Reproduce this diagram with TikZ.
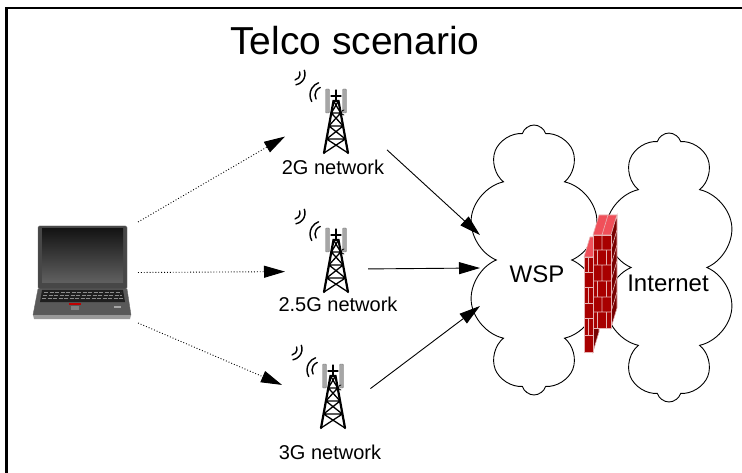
\documentclass[tikz,border=0pt]{standalone}
\usepackage{fontspec}
\setmainfont{Liberation Sans}
\usetikzlibrary{calc,arrows.meta,shapes.symbols}

\definecolor{brickface}{HTML}{A80000}
\definecolor{brickside}{HTML}{780000}
\definecolor{bricktop}{HTML}{F0505A}
\definecolor{mortar}{HTML}{E6B4B4}

\def\signal(#1)(#2:#3:#4){\draw[line width=1.4pt] (#1) ++(#2:#4) arc (#2:#3:#4);}
\def\celltower(#1){%
  \begin{scope}[shift={(#1)}, line cap=round]
    % antenna panels
    \draw[gray, fill=gray!70, rounded corners=1pt] (-10.5,-64) rectangle (-6.5,-40);
    \draw[gray, fill=gray!70, rounded corners=1pt] (6.5,-64) rectangle (10.5,-40);
    % mast, legs and bracing
    \draw[line width=1.2pt] (0,-52) -- (0,-63) (-5,-57) -- (5,-57);
    \draw[line width=2.2pt] (-12,0) -- (-2.5,-52) -- (2.5,-52) -- (12,0);
    \draw[line width=1.3pt] (-9.4,-14) -- (9.4,-14) (-7.1,-27) -- (7.1,-27) (-4.7,-40) -- (4.7,-40)
      (-12,0) -- (9.4,-14) (12,0) -- (-9.4,-14) (-9.4,-14) -- (7.1,-27) (9.4,-14) -- (-7.1,-27)
      (-7.1,-27) -- (4.7,-40) (7.1,-27) -- (-4.7,-40) (-4.7,-40) -- (2.5,-52) (4.7,-40) -- (-2.5,-52);
    \draw[line width=0.8pt] (8,-38) arc (-90:90:-2.5);
    % radio waves
    \signal(-42,-79)(-20:80:6)
    \signal(-42,-79)(-20:80:11)
    \signal(-13,-58)(150:250:8)
    \signal(-13,-58)(150:250:13)
  \end{scope}}

\tikzset{
  spot/.style={minimum width=102pt, minimum height=70pt, inner sep=0pt, outer sep=0pt},
  link/.style={line width=0.9pt, -{Triangle[length=21pt,width=12pt]}},
  radio/.style={link, dotted},
  cloudy/.style={cloud, draw, cloud puffs=10, cloud puff arc=145, aspect=0.5, line width=0.9pt, inner sep=0pt},
  label/.style={font=\fontsize{20}{24}\selectfont, anchor=base},
  mortarline/.style={draw=mortar, line width=0.6pt}
}

\begin{document}
\begin{tikzpicture}[x=1pt, y=-1pt]
  \useasboundingbox (0,0) rectangle (742,473);

  %%%%% FRAME AND TITLE %%%%%
  \draw[line width=2.7pt] (6.3,473) -- (6.3,8) -- (742,8);
  \node[font=\fontsize{39}{44}\selectfont, anchor=base] (title) at (355,55) {Telco scenario};

  %%%%% CLOUDS %%%%%
  \node[cloudy, minimum width=132pt, minimum height=270pt] (wspcloud) at (534,260) {};
  \node[cloudy, minimum width=132pt, minimum height=269pt, shape border rotate=15] (inetcloud) at (669,267.5) {};

  %%%%% LAPTOP %%%%%
  \draw[black!60, fill=black!72, rounded corners=1.5pt] (38,226) rectangle (127,289);
  \shade[top color=black!92, bottom color=black!62] (42,229) rectangle (123,283);
  \draw[black!60, fill=black!65] (38,289) -- (127,289) -- (131,315) -- (33,315) -- cycle;
  \fill[black!40] (33,315) -- (131,315) -- (130,319) -- (34,319) -- cycle;
  \fill[black!88] (42,290) -- (123,290) -- (125,302) -- (40,302) -- cycle;
  \draw[black!45, line width=1.3pt, dash pattern=on 4pt off 1.5pt]
    (44,292.5) -- (121,292.5) (43,295.5) -- (122,295.5) (42,298.5) -- (123,298.5);
  \fill[red!75!black] (69,302.5) rectangle (81,305);
  \fill[black!50] (71,306) rectangle (79,310);
  \fill[black!35] (114,306) rectangle (121,308);
  \node[minimum width=108pt, minimum height=101pt, inner sep=0pt, outer sep=0pt] (laptop) at (84,272.5) {};

  %%%%% TOWERS %%%%%
  \celltower(336,153)
  \celltower(336,292)
  \celltower(333,428)
  \node[spot] (t2g) at (336,118) {};
  \node[spot] (t25g) at (336,257) {};
  \node[spot] (t3g) at (333,393) {};
  \node[label] (l2g) at (333,175) {2G network};
  \node[label] (l25g) at (338,312) {2.5G network};
  \node[label] (l3g) at (330,459) {3G network};

  %%%%% FIREWALL %%%%%
  % lower part
  \draw[mortarline, fill=bricktop] (584,257) -- (593,257) -- (599,237) -- (590,237) -- cycle;
  \draw[mortarline, fill=brickside] (593,257) -- (599,237) -- (599,332) -- (593,352) -- cycle;
  \draw[mortarline, fill=brickface] (584,257) rectangle (593,352);
  \draw[mortarline] (584,272) -- (593,272) (584,287) -- (593,287) (584,303) -- (593,303)
    (584,318) -- (593,318) (584,335) -- (593,335)
    (588.5,257) -- (588.5,272) (588.5,287) -- (588.5,303) (588.5,318) -- (588.5,335);
  % upper part
  \draw[mortarline, fill=bricktop] (593,235) -- (611,235) -- (617,215) -- (599,215) -- cycle;
  \draw[mortarline] (602,235) -- (608,215);
  \draw[mortarline, fill=brickside] (611,235) -- (617,215) -- (617,308) -- (611,328) -- cycle;
  \draw[mortarline, fill=brickface] (593,235) rectangle (611,328);
  \draw[mortarline] (593,250) -- (611,250) (593,265) -- (611,265) (593,281) -- (611,281)
    (593,297) -- (611,297) (593,312) -- (611,312)
    (602,235) -- (602,250) (597.5,250) -- (597.5,265) (606.5,250) -- (606.5,265)
    (602,265) -- (602,281) (597.5,281) -- (597.5,297) (606.5,281) -- (606.5,297)
    (602,297) -- (602,312) (597.5,312) -- (597.5,328) (606.5,312) -- (606.5,328)
    (611,250) -- (617,230) (611,265) -- (617,245) (611,281) -- (617,261)
    (611,297) -- (617,277) (611,312) -- (617,292);

  %%%%% TEXT IN CLOUDS %%%%%
  \node[minimum width=114pt, minimum height=76pt, text height=30pt, text depth=0pt,
    inner sep=0pt, outer sep=0pt, font=\fontsize{24}{28}\selectfont] (wsp) at (537,268) {WSP};
  \node[font=\fontsize{24}{28}\selectfont, anchor=base] (inet) at (668,291) {Internet};

  %%%%% LINKS %%%%%
  \draw[radio] (laptop.north east) -- (t2g.200);
  \draw[radio] (laptop.east) -- (t25g.196);
  \draw[radio] (laptop.south east) -- (t3g.171);
  \draw[link] (t2g.-32) -- (wsp.150);
  \draw[link, shorten <=-19pt] (t25g.-13) -- (wsp.west);
  \draw[link, shorten <=-17pt] (t3g.16) -- (wsp.south west);
\end{tikzpicture}
\end{document}
